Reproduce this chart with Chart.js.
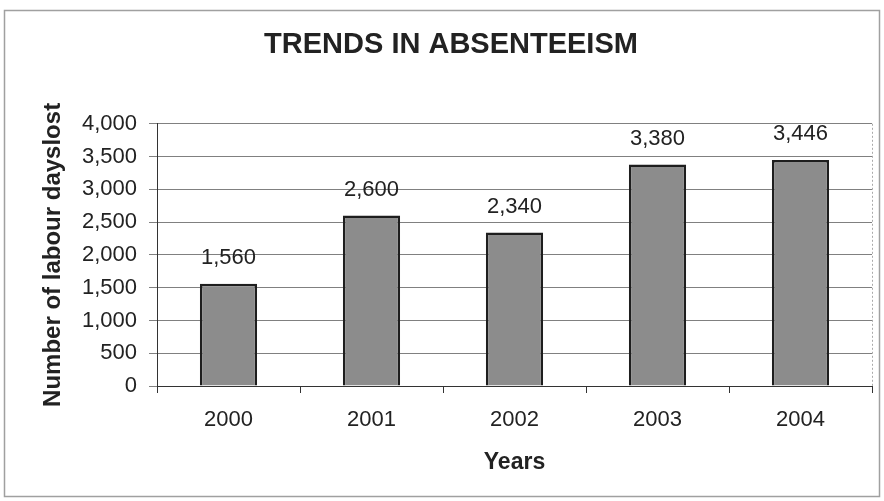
<!DOCTYPE html>
<html>
<head>
<meta charset="utf-8">
<script src="https://cdn.jsdelivr.net/npm/chart.js@4/dist/chart.umd.min.js"></script>
<style>
  html, body { margin: 0; padding: 0; background: #fff; }
  #wrap { width: 884px; height: 501px; }
</style>
</head>
<body>
<div id="wrap"><canvas id="absChart" width="884" height="501"></canvas></div>
<script>
// dados do gráfico
const anos = ['2000', '2001', '2002', '2003', '2004']
const diasPerdidos = [1560, 2600, 2340, 3380, 3446]
const tituloGrafico = 'TRENDS IN ABSENTEEISM'
const tituloEixoY = 'Number of labour dayslost'
const tituloEixoX = 'Years'

const fmt = v => Number(v).toLocaleString('en-US')
const FONTE = "'Liberation Sans', Arial, sans-serif"

// moldura externa
const moldura = {
  id: 'moldura',
  beforeDraw(chart) {
    const c = chart.ctx
    c.save()
    c.fillStyle = '#fff'
    c.fillRect(0, 0, chart.width, chart.height)
    c.strokeStyle = '#a0a0a0'
    c.lineWidth = 1.5
    c.strokeRect(4.5, 10.5, 875, 486)
    c.restore()
  },
  afterDraw(chart) {
    // borda direita pontilhada da área do gráfico
    const a = chart.chartArea
    const c = chart.ctx
    c.save()
    c.strokeStyle = '#aaa'
    c.setLineDash([2, 2])
    c.lineWidth = 1
    c.beginPath()
    c.moveTo(a.right + 0.5, a.top)
    c.lineTo(a.right + 0.5, a.bottom)
    c.stroke()
    c.restore()
  }
}

// rótulos de valor acima das barras
const rotulos = {
  id: 'rotulos',
  afterDatasetsDraw(chart) {
    const c = chart.ctx
    const meta = chart.getDatasetMeta(0)
    c.save()
    c.font = '22px ' + FONTE
    c.fillStyle = '#222'
    c.textAlign = 'center'
    c.textBaseline = 'middle'
    meta.data.forEach((bar, i) => {
      c.fillText(fmt(diasPerdidos[i]), bar.x, bar.y - 26)
    })
    c.restore()
  }
}

new Chart(document.getElementById('absChart'), {
  type: 'bar',
  data: {
    labels: anos,
    datasets: [{
      data: diasPerdidos,
      backgroundColor: '#8c8c8c',
      borderColor: '#1e1e1e',
      borderWidth: 2.5,
      barPercentage: 0.4,
      categoryPercentage: 1
    }]
  },
  options: {
    responsive: false,
    animation: false,
    layout: { padding: { left: 30, right: 12, top: 0, bottom: 10 } },
    plugins: {
      legend: { display: false },
      tooltip: { enabled: false },
      title: {
        display: true,
        text: tituloGrafico,
        color: '#222',
        font: { family: FONTE, size: 29, weight: 'bold' },
        padding: { top: 28, bottom: 61 }
      }
    },
    scales: {
      y: {
        min: 0,
        max: 4000,
        ticks: {
          stepSize: 500,
          callback: v => fmt(v),
          color: '#222',
          font: { family: FONTE, size: 22 },
          padding: 12
        },
        grid: { color: '#808080', tickLength: 8, lineWidth: 1 },
        border: { color: '#333', width: 1 },
        title: {
          display: true,
          text: tituloEixoY,
          color: '#222',
          font: { family: FONTE, size: 24, weight: 'bold' },
          padding: { top: 9, bottom: 0 }
        },
        afterFit(scale) { scale.width = 127 }
      },
      x: {
        ticks: {
          color: '#222',
          font: { family: FONTE, size: 22 },
          padding: 14
        },
        grid: { offset: true, drawOnChartArea: false, tickLength: 7, color: '#333' },
        border: { color: '#333', width: 1 },
        title: {
          display: true,
          text: tituloEixoX,
          color: '#222',
          font: { family: FONTE, size: 23, weight: 'bold' },
          padding: { top: 0, bottom: 15 }
        },
        afterFit(scale) { scale.height = 105 }
      }
    }
  },
  plugins: [moldura, rotulos]
})
</script>
</body>
</html>
